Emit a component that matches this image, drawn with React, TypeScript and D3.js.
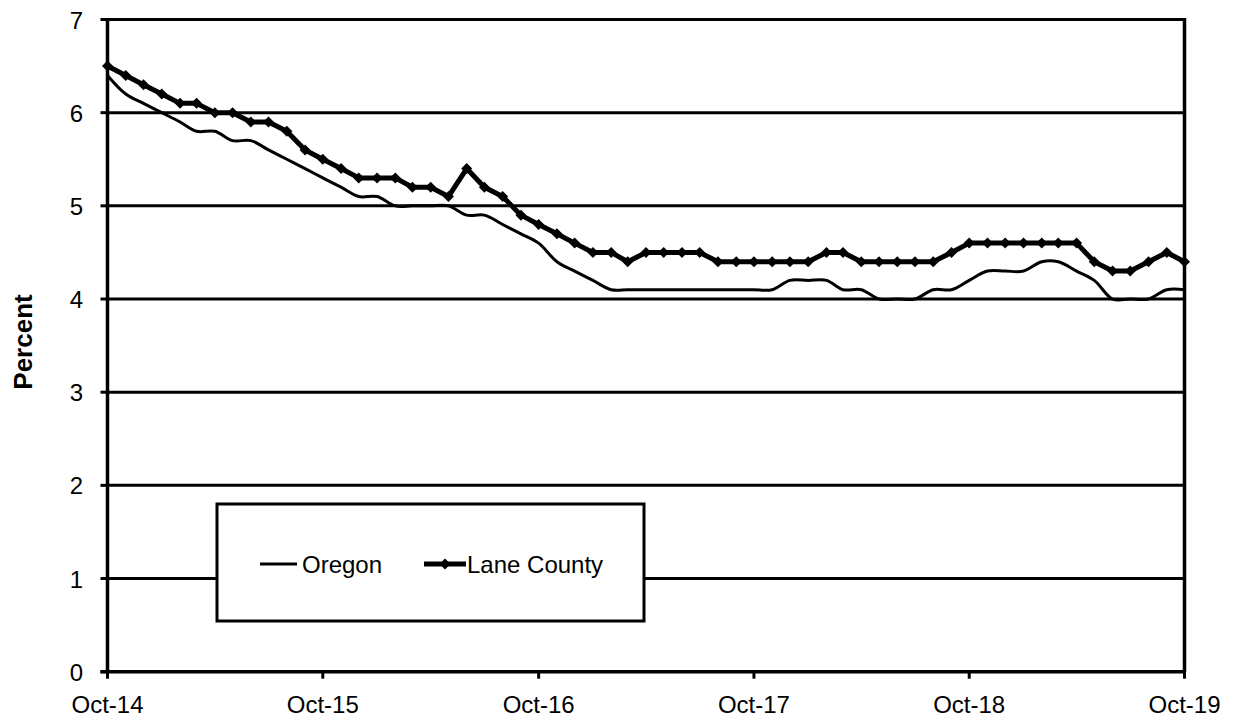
import * as d3 from 'd3';

// Monthly unemployment rate, Oct 2014 - Oct 2019 (percent)
const startMonth = new Date(2014, 9, 1);

const oregon = [
  6.4, 6.2, 6.1, 6.0, 5.9, 5.8, 5.8, 5.7, 5.7, 5.6, 5.5, 5.4,
  5.3, 5.2, 5.1, 5.1, 5.0, 5.0, 5.0, 5.0, 4.9, 4.9, 4.8, 4.7,
  4.6, 4.4, 4.3, 4.2, 4.1, 4.1, 4.1, 4.1, 4.1, 4.1, 4.1, 4.1,
  4.1, 4.1, 4.2, 4.2, 4.2, 4.1, 4.1, 4.0, 4.0, 4.0, 4.1, 4.1,
  4.2, 4.3, 4.3, 4.3, 4.4, 4.4, 4.3, 4.2, 4.0, 4.0, 4.0, 4.1, 4.1,
];

const laneCounty = [
  6.5, 6.4, 6.3, 6.2, 6.1, 6.1, 6.0, 6.0, 5.9, 5.9, 5.8, 5.6,
  5.5, 5.4, 5.3, 5.3, 5.3, 5.2, 5.2, 5.1, 5.4, 5.2, 5.1, 4.9,
  4.8, 4.7, 4.6, 4.5, 4.5, 4.4, 4.5, 4.5, 4.5, 4.5, 4.4, 4.4,
  4.4, 4.4, 4.4, 4.4, 4.5, 4.5, 4.4, 4.4, 4.4, 4.4, 4.4, 4.5,
  4.6, 4.6, 4.6, 4.6, 4.6, 4.6, 4.6, 4.4, 4.3, 4.3, 4.4, 4.5, 4.4,
];

const yTicks = [0, 1, 2, 3, 4, 5, 6, 7];
const xTickYears = [2014, 2015, 2016, 2017, 2018, 2019];

const W = 1239;
const H = 723;
const FONT = '"Liberation Sans", Arial, Helvetica, sans-serif';

export default function App() {
  const dates = oregon.map((_, i) => d3.timeMonth.offset(startMonth, i));

  const x = d3
    .scaleTime()
    .domain([startMonth, new Date(2019, 9, 1)])
    .range([107.5, 1184.5]);
  const y = d3.scaleLinear().domain([0, 7]).range([671.7, 19.5]);

  const oregonLine = d3
    .line<number>()
    .x((_, i) => x(dates[i]))
    .y((d) => y(d))
    .curve(d3.curveCatmullRom.alpha(0.5));

  const laneLine = d3
    .line<number>()
    .x((_, i) => x(dates[i]))
    .y((d) => y(d));

  const fmt = d3.timeFormat('%b-%y');
  const diamond = (cx: number, cy: number, r: number) =>
    `M${cx},${cy - r}L${cx + r},${cy}L${cx},${cy + r}L${cx - r},${cy}Z`;

  const x0 = x.range()[0];
  const x1 = x.range()[1];
  const yBottom = y(0);
  const yTop = y(7);

  // legend box
  const lg = { left: 217, top: 504, right: 644, bottom: 621 };
  const lgY = 564;

  return (
    <div style={{ position: 'absolute', left: 0, top: 0 }}>
      <svg width={W} height={H} style={{ display: 'block', background: '#fff' }} fontFamily={FONT}>
        {/* gridlines */}
        {yTicks.slice(1).map((t) => (
          <line key={t} x1={x0} x2={x1} y1={y(t)} y2={y(t)} stroke="#000" strokeWidth={3} />
        ))}
        {/* right border */}
        <line x1={x1} x2={x1} y1={yTop - 1.5} y2={yBottom} stroke="#000" strokeWidth={3.5} />

        {/* legend */}
        <rect
          x={lg.left}
          y={lg.top}
          width={lg.right - lg.left}
          height={lg.bottom - lg.top}
          fill="#fff"
          stroke="#000"
          strokeWidth={3}
        />
        <line x1={260} x2={297} y1={lgY} y2={lgY} stroke="#000" strokeWidth={3} />
        <text x={302} y={lgY + 9} fontSize={24}>
          Oregon
        </text>
        <line x1={424} x2={466} y1={lgY} y2={lgY} stroke="#000" strokeWidth={5} />
        <path d={diamond(445, lgY, 5.5)} fill="#000" />
        <text x={467} y={lgY + 9} fontSize={24}>
          Lane County
        </text>

        {/* series */}
        <path d={oregonLine(oregon) || ''} fill="none" stroke="#000" strokeWidth={3} />
        <path d={laneLine(laneCounty) || ''} fill="none" stroke="#000" strokeWidth={5} strokeLinejoin="round" />
        {laneCounty.map((v, i) => (
          <path key={i} d={diamond(x(dates[i]), y(v), 5.5)} fill="#000" />
        ))}

        {/* y axis */}
        <line x1={x0} x2={x0} y1={yTop - 1.5} y2={yBottom + 1.5} stroke="#000" strokeWidth={3.5} />
        {yTicks.map((t) => (
          <g key={t}>
            <line x1={x0 - 7} x2={x0} y1={y(t)} y2={y(t)} stroke="#000" strokeWidth={3} />
            <text x={83} y={y(t) + 9} fontSize={24} textAnchor="end">
              {t}
            </text>
          </g>
        ))}

        {/* x axis */}
        <line x1={x0 - 7} x2={x1 + 1.5} y1={yBottom} y2={yBottom} stroke="#000" strokeWidth={3.5} />
        {xTickYears.map((yr) => {
          const d = new Date(yr, 9, 1);
          return (
            <g key={yr}>
              <line x1={x(d)} x2={x(d)} y1={yBottom} y2={yBottom + 7} stroke="#000" strokeWidth={3} />
              <text x={x(d)} y={713} fontSize={24} textAnchor="middle">
                {fmt(d)}
              </text>
            </g>
          );
        })}

        <text
          transform={`translate(32,342) rotate(-90)`}
          fontSize={26}
          fontWeight="bold"
          textAnchor="middle"
        >
          Percent
        </text>
      </svg>
    </div>
  );
}
